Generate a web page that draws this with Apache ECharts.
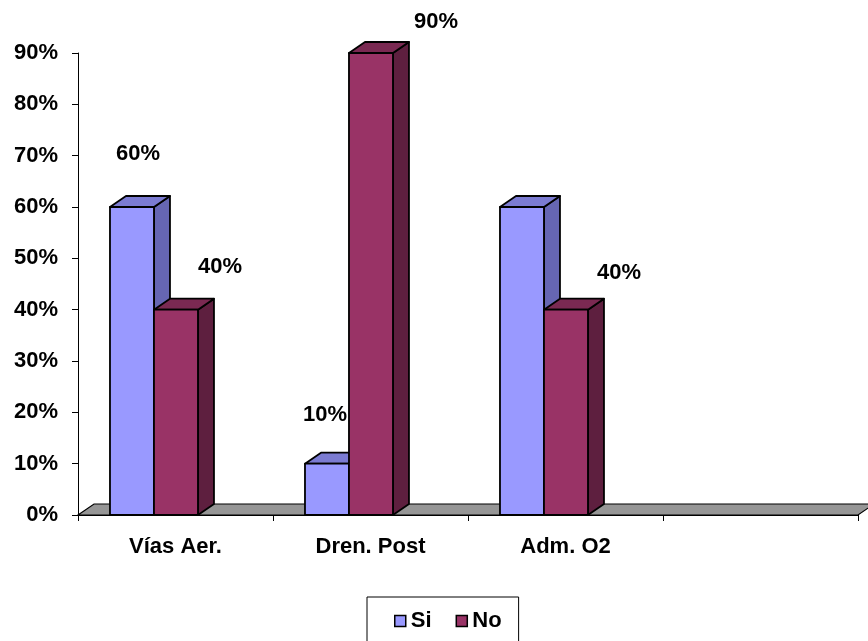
<!DOCTYPE html>
<html>
<head>
<meta charset="utf-8">
<script src="https://cdn.jsdelivr.net/npm/echarts@6/dist/echarts.min.js"></script>
<style>
  html, body { margin: 0; padding: 0; background: #fff; }
  #chart { width: 868px; height: 641px; }
</style>
</head>
<body>
<div id="chart"></div>
<script>
// Categories along the x axis (the fourth slot is left empty)
const categories = ['Vías Aer.', 'Dren. Post', 'Adm. O2', ''];
// Percentages per category
const siValues = [60, 10, 60];
const noValues = [40, 90, 40];
// Value-axis range
const yMin = 0, yMax = 90, yStep = 10;

// Data-label placement relative to the front-top centre of each bar (null = no label)
const labelShift = {
  Si: [[6, -53], [-2, -49], null],
  No: [[44, -43], [65, -31], [53, -37]]
};

// Face colours for the pseudo-3D columns
const faces = {
  Si: { front: '#9999FF', top: '#7B7BD2', side: '#6666B3' },
  No: { front: '#993366', top: '#7A2952', side: '#5E1F3F' }
};

const DEPTH_X = 16, DEPTH_Y = 11;
const OUTLINE = { stroke: '#000', lineWidth: 1.8, lineJoin: 'round' };
const FONT_SIZE = 22;
const LABEL_FONT = 'bold ' + FONT_SIZE + 'px "Liberation Sans", Arial, sans-serif';

function barRenderer(name, slot) {
  return function (params, api) {
    const cat = api.value(0);
    const val = api.value(1);
    const base = api.coord([cat, 0]);
    const topPt = api.coord([cat, val]);
    const bw = api.size([1, 0])[0];
    const barW = bw * 0.2256;
    const x0 = base[0] - bw / 2 + bw * 0.164 + slot * barW;
    const x1 = x0 + barW;
    const yb = base[1];
    const yt = topPt[1];
    const c = faces[name];
    const children = [
      { type: 'polygon', shape: { points: [[x1, yt], [x1 + DEPTH_X, yt - DEPTH_Y], [x1 + DEPTH_X, yb - DEPTH_Y], [x1, yb]] },
        style: Object.assign({ fill: c.side }, OUTLINE) },
      { type: 'polygon', shape: { points: [[x0, yt], [x0 + DEPTH_X, yt - DEPTH_Y], [x1 + DEPTH_X, yt - DEPTH_Y], [x1, yt]] },
        style: Object.assign({ fill: c.top }, OUTLINE) },
      { type: 'rect', shape: { x: x0, y: yt, width: barW, height: yb - yt },
        style: Object.assign({ fill: c.front }, OUTLINE) }
    ];
    const shift = labelShift[name][params.dataIndex];
    if (shift) {
      children.push({
        type: 'text',
        style: {
          text: val + '%',
          x: (x0 + x1) / 2 + shift[0],
          y: yt + shift[1],
          fill: '#000',
          font: LABEL_FONT,
          align: 'center',
          verticalAlign: 'middle'
        }
      });
    }
    return { type: 'group', children: children };
  };
}

function floorRenderer(params, api) {
  const cs = params.coordSys;
  const yb = cs.y + cs.height;
  return {
    type: 'polygon',
    shape: { points: [[cs.x, yb], [cs.x + DEPTH_X, yb - DEPTH_Y], [cs.x + cs.width + DEPTH_X, yb - DEPTH_Y], [cs.x + cs.width, yb]] },
    style: { fill: '#969696', stroke: '#000', lineWidth: 1.2 }
  };
}

const chart = echarts.init(document.getElementById('chart'), null, { renderer: 'canvas' });

chart.setOption({
  animation: false,
  color: [faces.Si.front, faces.No.front],
  textStyle: { fontFamily: '"Liberation Sans", Arial, sans-serif' },
  grid: { left: 78, right: 10, top: 53, bottom: 126 },
  legend: {
    data: ['Si', 'No'],
    left: 367,
    top: 597,
    padding: [13, 17, 22, 27],
    borderColor: '#000',
    borderWidth: 1,
    icon: 'rect',
    itemWidth: 11,
    itemHeight: 11,
    itemGap: 24,
    itemStyle: { borderColor: '#000', borderWidth: 1.5 },
    textStyle: { fontSize: FONT_SIZE, fontWeight: 'bold', color: '#000' }
  },
  xAxis: {
    type: 'category',
    data: categories,
    axisLine: { lineStyle: { color: '#000', width: 1 } },
    axisTick: { show: true, length: 6, lineStyle: { color: '#000' } },
    axisLabel: { color: '#000', fontSize: FONT_SIZE, fontWeight: 'bold', margin: 21, interval: 0 },
    splitLine: { show: false }
  },
  yAxis: {
    type: 'value',
    min: yMin,
    max: yMax,
    interval: yStep,
    axisLine: { show: true, lineStyle: { color: '#000', width: 1 } },
    axisTick: { show: true, length: 6, lineStyle: { color: '#000' } },
    axisLabel: { color: '#000', fontSize: FONT_SIZE, fontWeight: 'bold', margin: 20, formatter: '{value}%' },
    splitLine: { show: false }
  },
  series: [
    {
      type: 'custom', name: 'floor', z: 1, silent: true,
      renderItem: floorRenderer,
      data: [[0, 0]],
      encode: { x: 0, y: 1 }
    },
    {
      type: 'custom', name: 'Si', z: 2,
      itemStyle: { color: faces.Si.front },
      renderItem: barRenderer('Si', 0),
      data: siValues.map((v, i) => [i, v]),
      encode: { x: 0, y: 1 }
    },
    {
      type: 'custom', name: 'No', z: 3,
      itemStyle: { color: faces.No.front },
      renderItem: barRenderer('No', 1),
      data: noValues.map((v, i) => [i, v]),
      encode: { x: 0, y: 1 }
    }
  ]
});
</script>
</body>
</html>
